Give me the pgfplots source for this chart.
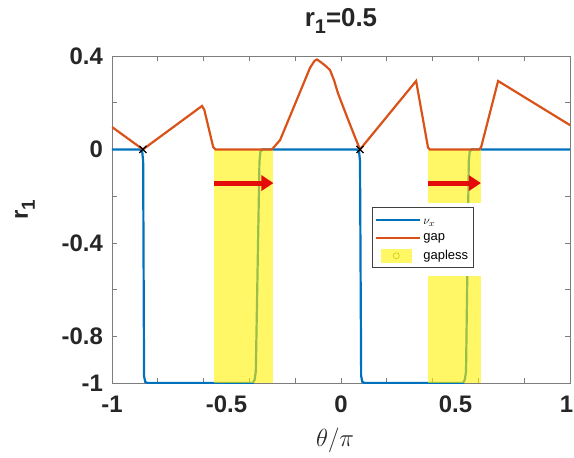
\documentclass[border=0pt]{standalone}
\usepackage{fontspec}
\setmainfont{Liberation Sans}
\usepackage{pgfplots}
\pgfplotsset{compat=1.18}
\usetikzlibrary{arrows.meta}

\definecolor{mblue}{rgb}{0,0.447,0.741}
\definecolor{morange}{rgb}{0.85,0.325,0.098}
\definecolor{arr}{RGB}{228,12,8}
\definecolor{axgray}{RGB}{125,125,125}
\definecolor{txt}{RGB}{38,38,38}
\newcommand\tk{\fontsize{24}{26}\selectfont\bfseries}
\newcommand\rone{r\raisebox{-7bp}{\fontsize{19}{20}\selectfont 1}}

\begin{document}
\begin{tikzpicture}
\begin{axis}[
  scale only axis, width=458bp, height=327bp,
  xmin=-1, xmax=1, ymin=-1, ymax=0.4,
  axis line style={axgray, line width=0.7bp},
  every tick/.style={axgray, line width=0.7bp},
  major tick length=5bp,
  xtick={-1,-0.8,-0.6,-0.4,-0.2,0,0.2,0.4,0.6,0.8,1}, xticklabels={},
  ytick={-1,-0.8,-0.6,-0.4,-0.2,0,0.2,0.4}, yticklabels={},
  extra x ticks={-1,-0.5,0,0.5,1},
  extra x tick labels={-1,-0.5,0,0.5,\kern-7bp1},
  extra y ticks={-1,-0.8,-0.4,0,0.4},
  extra y tick labels={-1,-0.8,-0.4,0,0.4},
  extra tick style={major tick length=0pt},
  xticklabel style={font=\tk, text=txt, inner sep=0pt, anchor=north, yshift=-13bp},
  yticklabel style={font=\tk, text=txt, inner sep=0pt, anchor=east, xshift=-9bp},
  title={\fontsize{26}{28}\selectfont\bfseries r\raisebox{-7bp}{\fontsize{20}{21}\selectfont 1}=0.5},
  title style={at={(rel axis cs:0.5,1)}, anchor=base, yshift=24bp, inner sep=0pt, text=txt},
  ylabel={\tk\rone},
  ylabel style={at={(axis description cs:-0.19,0.53)}, anchor=center, text=txt},
  xlabel={\fontsize{25}{27}\selectfont$\theta/\pi$},
  xlabel style={at={(axis description cs:0.487,-0.174)}, anchor=center, text=txt},
  legend style={at={(axis cs:0.135,-0.247)}, anchor=north west,
    draw=black!75, fill=white, line width=0.6bp,
    font=\fontsize{13}{14}\selectfont, inner xsep=3pt, inner ysep=4pt, row sep=4bp,
    legend cell align=left},
  legend image code/.code={\draw[#1] (2bp,0) -- (46bp,0);},
]

% nu_x
\addplot[mblue, line width=2.2bp] coordinates {
  (-1,0) (-0.878,0) (-0.868,-0.01) (-0.864,-0.05) (-0.860,-0.97) (-0.855,-0.995)
  (-0.845,-1) (-0.385,-1) (-0.377,-0.985) (-0.372,-0.95) (-0.356,-0.05)
  (-0.352,-0.01) (-0.343,0) (0.07,0) (0.079,-0.01) (0.083,-0.05) (0.088,-0.97)
  (0.093,-0.995) (0.103,-1) (0.533,-1) (0.541,-0.985) (0.546,-0.95)
  (0.558,-0.05) (0.562,-0.01) (0.57,0) (1,0)
};
\addlegendentry{\rule{0pt}{11bp}$\nu_x$}

% gapless regions
\addplot[fill=yellow, fill opacity=0.6, draw=none, forget plot] coordinates {
  (-0.555,0) (-0.295,0) (-0.295,-1) (-0.555,-1)} -- cycle;
\addplot[fill=yellow, fill opacity=0.6, draw=none, forget plot] coordinates {
  (0.380,0) (0.611,0) (0.611,-1) (0.380,-1)} -- cycle;

% gap
\addplot[morange, line width=2.2bp] coordinates {
  (-1,0.096) (-0.865,0) (-0.607,0.186) (-0.597,0.17) (-0.558,0.01) (-0.548,0)
  (-0.302,0) (-0.293,0.01) (-0.266,0.04) (-0.192,0.215) (-0.135,0.35)
  (-0.115,0.38) (-0.105,0.385) (-0.09,0.375) (-0.07,0.36) (-0.048,0.34)
  (-0.03,0.295) (-0.013,0.24) (0.026,0.14) (0.061,0.053) (0.083,0)
  (0.328,0.293) (0.38,0.008) (0.388,0) (0.604,0) (0.612,0.01)
  (0.686,0.293) (1,0.104)
};
\addlegendentry{gap}

% arrows
\addplot[arr, line width=5bp, -{Triangle[length=12bp, width=15bp]}, forget plot]
  coordinates {(-0.555,-0.144) (-0.295,-0.144)};
\addplot[arr, line width=5bp, -{Triangle[length=12bp, width=15bp]}, forget plot]
  coordinates {(0.380,-0.144) (0.611,-0.144)};

% crossing marks
\addplot[black, only marks, mark=x, mark size=5bp, line width=1.2bp, forget plot]
  coordinates {(-0.865,0) (0.083,0)};

\addlegendimage{legend image code/.code={
  \fill[yellow!60] (7bp,-6.5bp) rectangle (37bp,6.5bp);
  \draw[yellow!60!olive, line width=0.6bp] (22bp,0) circle (3bp);}}
\addlegendentry{gapless}

% white backing of the legend
\fill[white] (axis cs:0.105,-0.229) rectangle (axis cs:0.65,-0.542);

\coordinate (sw) at (rel axis cs:0,0);
\end{axis}
\pgfresetboundingbox
\path[use as bounding box] (sw) ++(-112bp,-75bp) rectangle ++(574bp,458bp);
\end{tikzpicture}
\end{document}
